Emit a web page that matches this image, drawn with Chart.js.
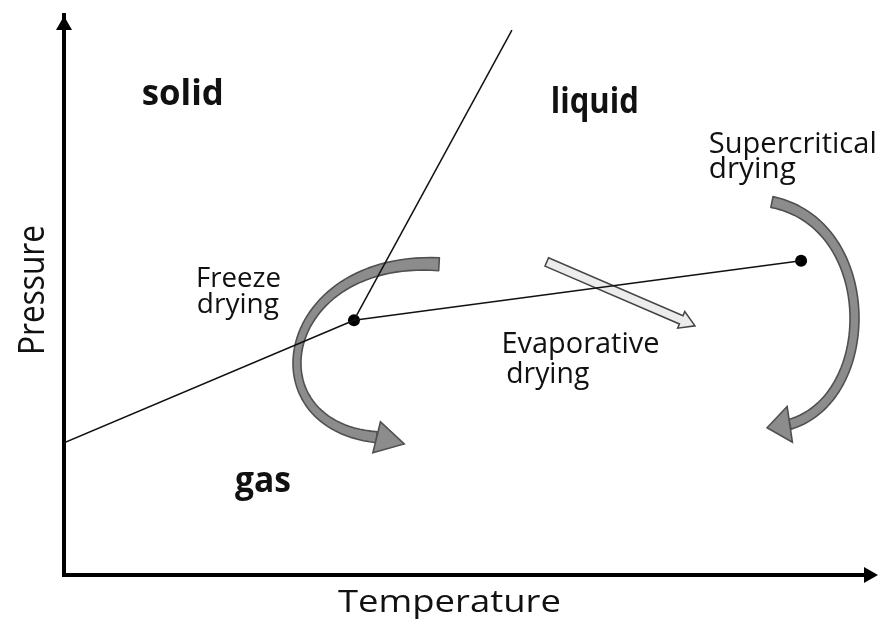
<!DOCTYPE html>
<html><head><meta charset="utf-8">
<script src="https://cdn.jsdelivr.net/npm/chart.js@4/dist/chart.umd.min.js"></script>
<style>html,body{margin:0;padding:0;background:#fff}#wrap{width:880px;height:619px}</style>
</head><body><div id="wrap"><canvas id="c" width="880" height="619"></canvas></div>
<script>
// ---- Data (temperature / pressure in arbitrary relative units 0..100) ----
const sublimationCurve   = [{x:0, y:23.6}, {x:35.8, y:45.5}];
const meltingCurve       = [{x:35.8, y:45.5}, {x:55.3, y:97.3}];
const vaporizationCurve  = [{x:35.8, y:45.5}, {x:91.0, y:56.1}];
const specialPoints      = [{x:35.8, y:45.5}, {x:91.0, y:56.1}]; // triple point, critical point

// drying routes (bezier control points in data units)
const freezeRoute        = [{x:46.3,y:55.5},{x:26.5,y:57.1},{x:22.8,y:26.8},{x:38.6,y:24.6}];
const freezeTip          = {x:42.0, y:23.4};
const supercriticalRoute = [{x:87.4,y:66.6},{x:100.6,y:62.7},{x:100.6,y:31.6},{x:89.6,y:26.9}];
const supercriticalTip   = {x:86.8, y:26.3};
const evaporativeRoute   = [{x:59.6,y:55.9},{x:77.9,y:44.5}];

// text labels
const axisTitles  = ['Temperature', 'Pressure'];
const labelTexts  = ['solid','liquid','gas','Freeze','drying','Evaporative','drying','Supercritical','drying'];
const labelX      = [9.6, 60.1, 21.1, 16.3, 16.4, 54.0, 54.6, 79.6, 79.6];
const labelY      = [83.9, 82.5, 14.8, 51.4, 46.8, 39.6, 34.3, 75.4, 70.9];

const labelStyle = [
  {size:35,bold:true,w:82},{size:35,bold:true,w:88},{size:35,bold:true,w:56},
  {size:27,w:85},{size:27,w:82},{size:29,w:158},{size:29,w:83},{size:29,w:168},{size:29,w:87}
];

const FONT = "'Open Sans', 'DejaVu Sans', sans-serif";

function px(chart, p){ return {x: chart.scales.x.getPixelForValue(p.x), y: chart.scales.y.getPixelForValue(p.y)}; }

function bez(p,t){ const u=1-t; return {x:u*u*u*p[0].x+3*u*u*t*p[1].x+3*u*t*t*p[2].x+t*t*t*p[3].x, y:u*u*u*p[0].y+3*u*u*t*p[1].y+3*u*t*t*p[2].y+t*t*t*p[3].y}; }
function bezD(p,t){ const u=1-t; return {x:3*u*u*(p[1].x-p[0].x)+6*u*t*(p[2].x-p[1].x)+3*t*t*(p[3].x-p[2].x), y:3*u*u*(p[1].y-p[0].y)+6*u*t*(p[2].y-p[1].y)+3*t*t*(p[3].y-p[2].y)}; }

function drawHead(ctx, base, tip, hw){
  const dx = tip.x-base.x, dy = tip.y-base.y, L = Math.hypot(dx,dy);
  const nx = -dy/L, ny = dx/L;
  ctx.beginPath();
  ctx.moveTo(base.x+nx*hw, base.y+ny*hw);
  ctx.lineTo(tip.x, tip.y);
  ctx.lineTo(base.x-nx*hw, base.y-ny*hw);
  ctx.closePath();
}

function drawCurvedArrow(chart, route, tip, widths, hw){
  const ctx = chart.ctx;
  const p = route.map(q=>px(chart,q));
  const t = px(chart, tip);
  const [w0, wm, w1] = widths;
  const wc = 2*wm - 0.5*(w0+w1);
  const L = [], R = [];
  const N = 60;
  for (let i=0;i<=N;i++){
    const s = i/N, u = 1-s;
    const w = (w0*u*u + 2*wc*s*u + w1*s*s)/2;
    const c = bez(p,s), d = bezD(p,s), l = Math.hypot(d.x,d.y);
    const nx = -d.y/l, ny = d.x/l;
    L.push({x:c.x+nx*w, y:c.y+ny*w}); R.push({x:c.x-nx*w, y:c.y-ny*w});
  }
  ctx.save();
  ctx.beginPath();
  ctx.moveTo(L[0].x, L[0].y);
  L.forEach(q=>ctx.lineTo(q.x,q.y));
  for (let i=R.length-1;i>=0;i--) ctx.lineTo(R[i].x,R[i].y);
  ctx.closePath();
  ctx.fillStyle = '#8c8c8c'; ctx.fill();
  ctx.strokeStyle = '#505050'; ctx.lineWidth = 1.6; ctx.lineJoin='round'; ctx.stroke();
  drawHead(ctx, p[3], t, hw);
  ctx.fillStyle = '#8c8c8c'; ctx.fill();
  ctx.strokeStyle = '#505050'; ctx.lineWidth = 1.6; ctx.lineJoin='miter'; ctx.stroke();
  ctx.restore();
}

function drawStraightArrow(chart, route){
  const ctx = chart.ctx;
  const a = px(chart, route[0]), b = px(chart, route[1]);
  const dx=b.x-a.x, dy=b.y-a.y, L=Math.hypot(dx,dy), ux=dx/L, uy=dy/L, nx=-uy, ny=ux;
  const sw=4.5, hw=9, hl=15;
  const hx=b.x-ux*hl, hy=b.y-uy*hl;
  ctx.save();
  ctx.beginPath();
  ctx.moveTo(a.x+nx*sw, a.y+ny*sw);
  ctx.lineTo(hx+nx*sw, hy+ny*sw);
  ctx.lineTo(hx+nx*hw, hy+ny*hw);
  ctx.lineTo(b.x, b.y);
  ctx.lineTo(hx-nx*hw, hy-ny*hw);
  ctx.lineTo(hx-nx*sw, hy-ny*sw);
  ctx.lineTo(a.x-nx*sw, a.y-ny*sw);
  ctx.closePath();
  ctx.fillStyle = '#ececec'; ctx.fill();
  ctx.strokeStyle = '#444'; ctx.lineWidth = 1.5; ctx.stroke();
  ctx.restore();
}

function fitText(ctx, text, x, y, font, targetW, ky){
  ctx.font = font;
  const m = ctx.measureText(text).width;
  ctx.save();
  ctx.translate(x, y);
  ctx.scale(targetW / m, ky || 1);
  ctx.fillText(text, 0, 0);
  ctx.restore();
}

const diagramPlugin = {
  id: 'diagram',
  beforeDatasetsDraw(chart){
    drawCurvedArrow(chart, freezeRoute, freezeTip, [13, 8, 11], 16);
    drawCurvedArrow(chart, supercriticalRoute, supercriticalTip, [11, 9, 10], 18);
    drawStraightArrow(chart, evaporativeRoute);
  },
  afterDraw(chart){
    const ctx = chart.ctx, ca = chart.chartArea;
    ctx.save();
    // axis arrow heads
    ctx.fillStyle = '#000';
    ctx.beginPath(); ctx.moveTo(ca.left-8, ca.top+15); ctx.lineTo(ca.left, ca.top+1); ctx.lineTo(ca.left+8, ca.top+15); ctx.closePath(); ctx.fill();
    ctx.beginPath(); ctx.moveTo(ca.right-10, ca.bottom-8); ctx.lineTo(ca.right+4, ca.bottom); ctx.lineTo(ca.right-10, ca.bottom+8); ctx.closePath(); ctx.fill();
    // axis titles
    ctx.fillStyle = '#111';
    ctx.textBaseline = 'alphabetic';
    ctx.textAlign = 'center';
    fitText(ctx, axisTitles[0], 449.5, 612, '31px ' + FONT, 223);
    ctx.save();
    ctx.translate(44, 290);
    ctx.rotate(-Math.PI/2);
    fitText(ctx, axisTitles[1], 0, 0, '31.5px ' + FONT, 130, 1.18);
    ctx.restore();
    // labels
    ctx.textAlign = 'left';
    labelTexts.forEach((t,i)=>{
      const s = labelStyle[i];
      const p = px(chart, {x:labelX[i], y:labelY[i]});
      fitText(ctx, t, p.x, p.y, (s.bold?'bold ':'') + s.size + 'px ' + FONT, s.w);
    });
    ctx.restore();
  }
};

const lineStyle = {showLine:true, pointRadius:0, borderColor:'#111', borderWidth:1.5, fill:false};

new Chart(document.getElementById('c'), {
  type: 'scatter',
  data: {
    datasets: [
      Object.assign({label:'Sublimation', data: sublimationCurve}, lineStyle),
      Object.assign({label:'Melting', data: meltingCurve}, lineStyle),
      Object.assign({label:'Vaporization', data: vaporizationCurve}, lineStyle),
      {label:'Triple / critical point', data: specialPoints, showLine:false, pointRadius:6, pointBackgroundColor:'#000', pointBorderColor:'#000', pointBorderWidth:0}
    ]
  },
  options: {
    responsive: false,
    animation: false,
    devicePixelRatio: 1,
    layout: {padding: {left: 64, right: 6, top: 15, bottom: 44}},
    plugins: {legend: {display:false}, tooltip: {enabled:false}},
    scales: {
      x: {
        type:'linear', min:0, max:100,
        ticks:{display:false}, grid:{display:false, drawTicks:false},
        border:{display:true, color:'#000', width:4},
        title:{display:false, text:'Temperature'}
      },
      y: {
        type:'linear', min:0, max:100,
        ticks:{display:false}, grid:{display:false, drawTicks:false},
        border:{display:true, color:'#000', width:4},
        title:{display:false, text:'Pressure'}
      }
    }
  },
  plugins: [diagramPlugin]
});
</script>
</body></html>
